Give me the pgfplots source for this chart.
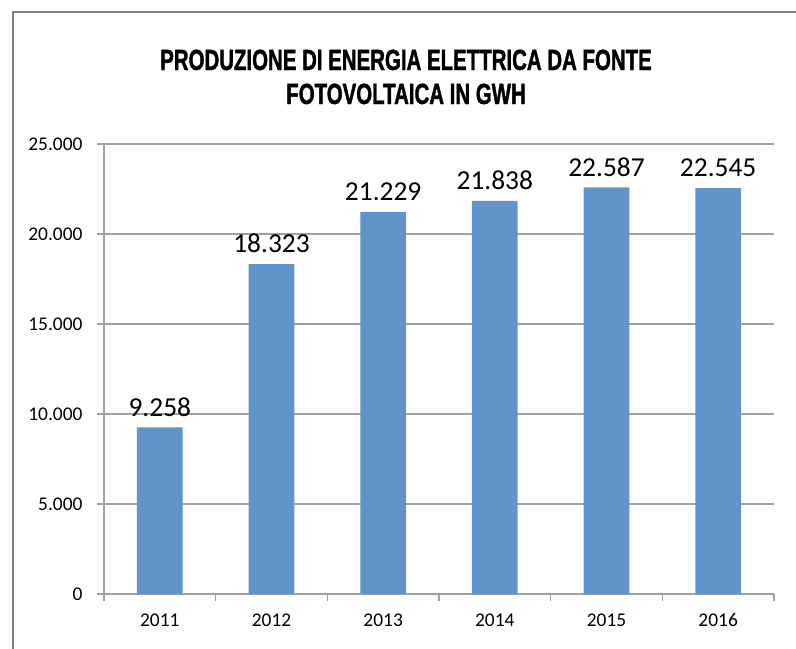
\documentclass[border=0pt]{standalone}
\usepackage{fontspec}
\setmainfont{Carlito}
\newfontfamily\titlefont[FakeStretch=0.70,FakeBold=1.3]{Liberation Sans Bold}
\usepackage{pgfplots}
\pgfplotsset{compat=1.18}
\definecolor{barblue}{RGB}{97,149,201}
\definecolor{gridgray}{RGB}{160,160,160}
\definecolor{framegray}{RGB}{130,130,130}
\begin{document}
\begin{tikzpicture}
\begin{axis}[
  at={(104bp,-594bp)}, anchor=south west,
  scale only axis, width=670bp, height=450bp,
  xmin=-0.5, xmax=5.5, ymin=0, ymax=25000,
  ybar, bar width=0.41,
  axis x line*=bottom, axis y line*=left,
  axis line style={gridgray, line width=1.3bp},
  ymajorgrids, grid style={gridgray, line width=1.3bp},
  tick align=outside, major tick length=7bp, minor tick length=7bp,
  tick style={gridgray, line width=1.3bp},
  ytick={0,5000,...,25000}, scaled y ticks=false,
  xtick={0,1,2,3,4,5},
  xticklabels={2011,2012,2013,2014,2015,2016},
  major x tick style={draw=none},
  minor xtick={-0.5,0.5,1.5,2.5,3.5,4.5,5.5},
  /pgf/number format/.cd, 1000 sep={.}, assume math mode=true,
  /pgfplots/.cd,
  ticklabel style={font=\fontsize{19.5}{22}\selectfont, black},
  yticklabel style={xshift=-11bp},
  xticklabel style={yshift=-9bp},
  nodes near coords,
  nodes near coords style={font=\fontsize{27.5}{30}\selectfont, anchor=south, yshift=7.5bp, black},
  clip=false,
]
\addplot[fill=barblue, draw=none] coordinates {(0,9258) (1,18323) (2,21229) (3,21838) (4,22587) (5,22545)};
\end{axis}
\node[anchor=base, font=\titlefont\fontsize{29.3}{34}\selectfont] at (406bp,-70bp) {PRODUZIONE DI ENERGIA ELETTRICA DA FONTE};
\node[anchor=base, font=\titlefont\fontsize{29.3}{34}\selectfont] at (406bp,-104bp) {FOTOVOLTAICA IN GWH};
\draw[framegray, line width=1.3bp] (13bp,-700bp) -- (13bp,-12bp) -- (850bp,-12bp);
\pgfresetboundingbox
\useasboundingbox (0,0) rectangle (796bp,-649bp);
\end{tikzpicture}
\end{document}
